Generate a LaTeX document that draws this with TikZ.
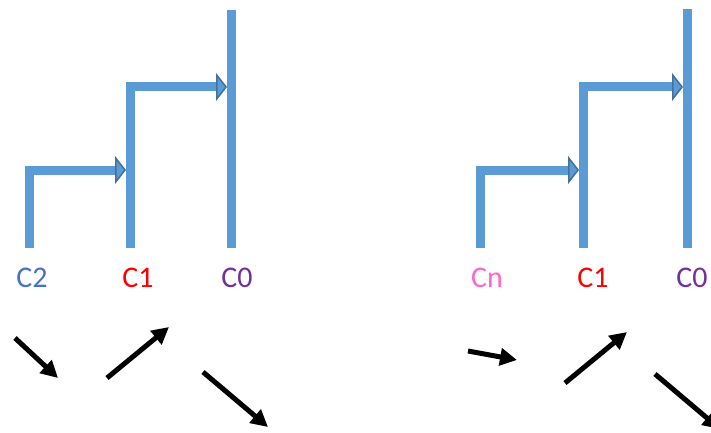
\documentclass[tikz,border=0pt]{standalone}
\usepackage{fontspec}
\setmainfont{Carlito}
\usetikzlibrary{arrows.meta}
\definecolor{linkblue}{HTML}{5B9BD5}
\definecolor{tipblue}{HTML}{41719C}
\definecolor{ctwo}{HTML}{4472C4}
\definecolor{cone}{HTML}{FF0000}
\definecolor{czero}{HTML}{7030A0}
\definecolor{cenn}{HTML}{FF66CC}
\tikzstyle{level} = [anchor=base, inner sep=0pt, font=\fontsize{30}{36}\selectfont]
\tikzstyle{link} = [linkblue, line width=9pt]
\tikzstyle{merge} = [link, -{Triangle[length=11pt, width=28pt, fill=linkblue, color=tipblue, line width=1.5pt]}]
\tikzstyle{move} = [black, line width=5pt, -{Triangle[length=17pt, width=17pt]}]

\begin{document}
\begin{tikzpicture}[x=1pt, y=-1pt]
            \useasboundingbox (0,0) rectangle (711,433);
            \clip (0,0) rectangle (711,433);
            % left tree
            \node [level, ctwo] at (32,287) (lc2) {C2};
            \node [level, cone] at (138,287) (lc1) {C1};
            \node [level, czero] at (237,287) (lc0) {C0};
            \coordinate (l2b) at (29,248);
            \coordinate (l1b) at (130,248);
            \coordinate (l0b) at (231,248);
            \coordinate (l0t) at (231,10);
            \coordinate (l2j) at (126,170);
            \coordinate (l1j) at (227,87);
            \draw [link] (l0b) -- (l0t);
            \draw [merge] (l1b) |- (l1j);
            \draw [merge] (l2b) |- (l2j);
            % right tree
            \node [level, cenn] at (487,287) (rcn) {Cn};
            \node [level, cone] at (593,287) (rc1) {C1};
            \node [level, czero] at (692,287) (rc0) {C0};
            \coordinate (rnb) at (480,248);
            \coordinate (r1b) at (583,248);
            \coordinate (r0b) at (687,248);
            \coordinate (r0t) at (687,9);
            \coordinate (rnj) at (579,170);
            \coordinate (r1j) at (683,87);
            \draw [link] (r0b) -- (r0t);
            \draw [merge] (r1b) |- (r1j);
            \draw [merge] (rnb) |- (rnj);
            % moves below
            \coordinate (a1s) at (15,338);  \coordinate (a1e) at (58,378);
            \coordinate (a2s) at (107,378); \coordinate (a2e) at (169,327);
            \coordinate (a3s) at (203,372); \coordinate (a3e) at (268,427);
            \coordinate (a4s) at (468,351); \coordinate (a4e) at (517,360);
            \coordinate (a5s) at (565,383); \coordinate (a5e) at (627,332);
            \coordinate (a6s) at (655,374); \coordinate (a6e) at (720,429);
            \draw [move] (a1s) -- (a1e);
            \draw [move] (a2s) -- (a2e);
            \draw [move] (a3s) -- (a3e);
            \draw [move] (a4s) -- (a4e);
            \draw [move] (a5s) -- (a5e);
            \draw [move] (a6s) -- (a6e);
            \end{tikzpicture}
\end{document}
